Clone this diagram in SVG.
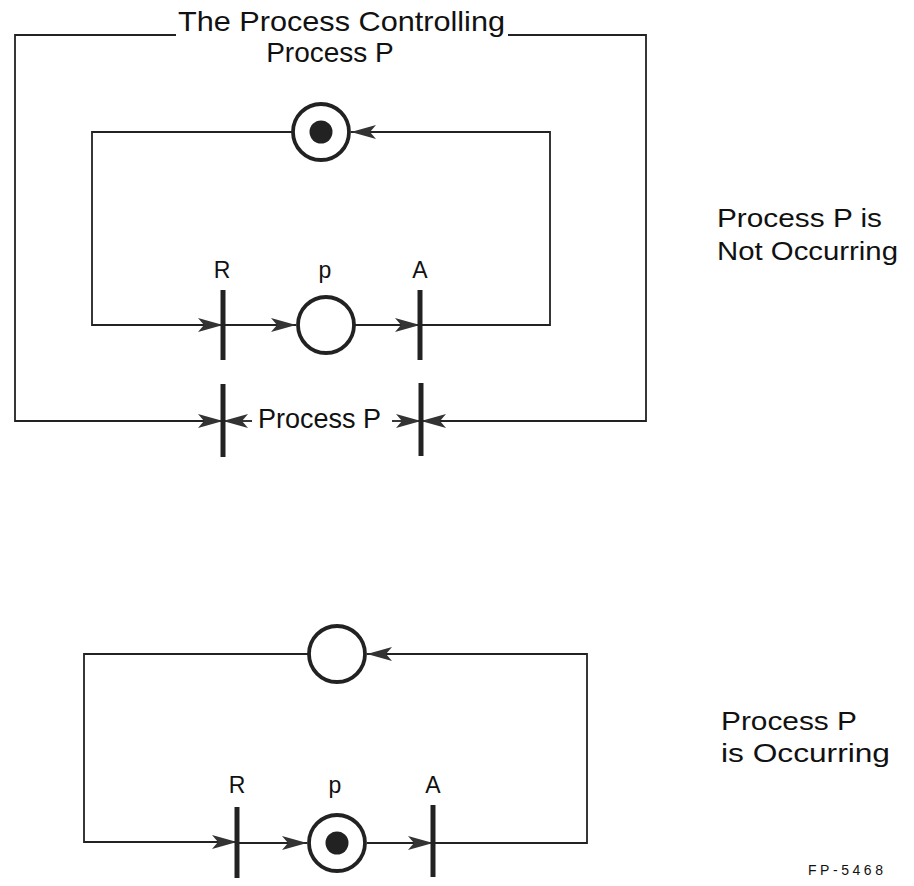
<svg xmlns="http://www.w3.org/2000/svg" width="914" height="886" viewBox="0 0 914 886">
<defs>
<marker id="arr" markerUnits="userSpaceOnUse" markerWidth="25" markerHeight="14" refX="25" refY="7" orient="auto" viewBox="0 0 25 14">
<path d="M0,0 L25,7 L0,14 L6,7 Z" fill="#333"/>
</marker>
</defs>
<style>
.ln{fill:none;stroke:#222;stroke-width:1.8}
.bar{stroke:#222;stroke-width:5}
.pl{fill:#fff;stroke:#222;stroke-width:3.8}
.tok{fill:#222}
.t{font-family:"Liberation Sans",Arial,sans-serif;fill:#111}
.lab{font-size:23px;text-anchor:middle}
.big{font-size:26px}
</style>
<rect width="914" height="886" fill="#fff"/>
<g id="connectors">
<path class="ln" d="M176,35 H15 V421 H223" marker-end="url(#arr)"/>
<path class="ln" d="M508,35 H646 V421 H421" marker-end="url(#arr)"/>
<path class="ln" d="M252,421 H223" marker-end="url(#arr)"/>
<path class="ln" d="M392,421 H421" marker-end="url(#arr)"/>
<path class="ln" d="M292,132 H92 V325 H223" marker-end="url(#arr)"/>
<path class="ln" d="M223,325 H296" marker-end="url(#arr)"/>
<path class="ln" d="M355,325 H420" marker-end="url(#arr)"/>
<path class="ln" d="M420,325 H550 V132 H351" marker-end="url(#arr)"/>
<path class="ln" d="M308,654 H84 V842 H237" marker-end="url(#arr)"/>
<path class="ln" d="M237,843 H307" marker-end="url(#arr)"/>
<path class="ln" d="M367,843 H433" marker-end="url(#arr)"/>
<path class="ln" d="M433,843 H587 V654 H367" marker-end="url(#arr)"/>
</g>
<g id="title">
<text class="t" x="178" y="31" font-size="28" textLength="327" lengthAdjust="spacingAndGlyphs">The Process Controlling</text>
<text class="t" x="330" y="62" font-size="28" text-anchor="middle">Process P</text>
</g>
<g id="place-top-control">
<circle class="pl" cx="321" cy="132" r="28"/>
<circle class="tok" cx="321" cy="132" r="11.5"/>
</g>
<g id="trans-R-top">
<line class="bar" x1="223" y1="290" x2="223" y2="360"/>
<text class="t lab" x="222" y="278">R</text>
</g>
<g id="place-p-top">
<circle class="pl" cx="326" cy="325" r="28"/>
<text class="t lab" x="325" y="278">p</text>
</g>
<g id="trans-A-top">
<line class="bar" x1="420" y1="290" x2="420" y2="360"/>
<text class="t lab" x="420" y="278">A</text>
</g>
<g id="trans-R-outer">
<line class="bar" x1="223" y1="384" x2="223" y2="457"/>
</g>
<g id="trans-A-outer">
<line class="bar" x1="421" y1="383" x2="421" y2="456"/>
</g>
<g id="label-process-P">
<text class="t" x="258" y="428" font-size="27" textLength="123" lengthAdjust="spacingAndGlyphs">Process P</text>
</g>
<g id="label-not-occurring">
<text class="t big" x="717" y="227" textLength="165" lengthAdjust="spacingAndGlyphs">Process P is</text>
<text class="t big" x="717" y="260" textLength="181" lengthAdjust="spacingAndGlyphs">Not Occurring</text>
</g>
<g id="place-top-lower">
<circle class="pl" cx="337" cy="654" r="28"/>
</g>
<g id="trans-R-lower">
<line class="bar" x1="237" y1="807" x2="237" y2="878"/>
<text class="t lab" x="237" y="793">R</text>
</g>
<g id="place-p-lower">
<circle class="pl" cx="337" cy="843" r="28"/>
<circle class="tok" cx="337" cy="843" r="11.5"/>
<text class="t lab" x="335" y="793">p</text>
</g>
<g id="trans-A-lower">
<line class="bar" x1="433" y1="805" x2="433" y2="877"/>
<text class="t lab" x="433" y="793">A</text>
</g>
<g id="label-occurring">
<text class="t big" x="721" y="730" textLength="136" lengthAdjust="spacingAndGlyphs">Process P</text>
<text class="t big" x="721" y="762" textLength="169" lengthAdjust="spacingAndGlyphs">is Occurring</text>
</g>
<g id="figure-id">
<text class="t" x="808" y="875" font-size="14" textLength="75" lengthAdjust="spacing">FP-5468</text>
</g>
</svg>
